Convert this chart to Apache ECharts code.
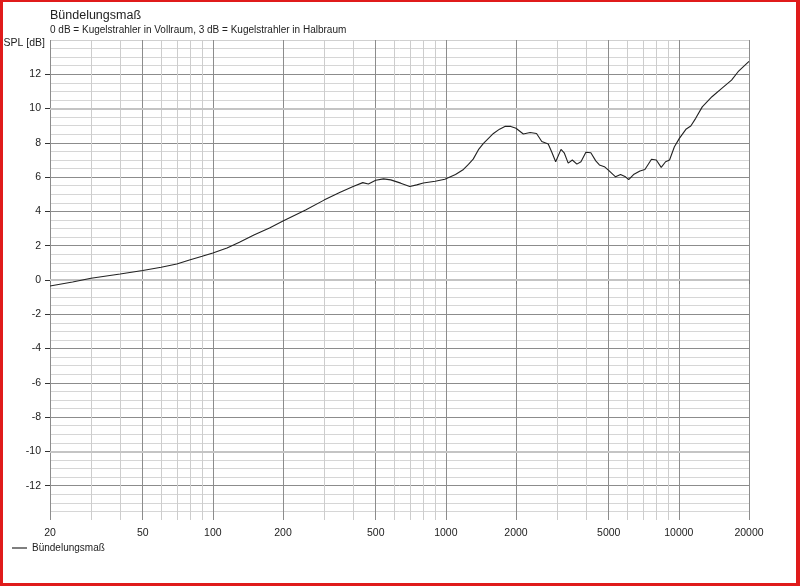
<!DOCTYPE html>
<html>
<head>
<meta charset="utf-8">
<script src="https://cdn.jsdelivr.net/npm/echarts@6/dist/echarts.min.js"></script>
<style>
html,body{margin:0;padding:0;background:#fff;}
#wrap{position:relative;width:800px;height:586px;}
#chart{position:absolute;left:0;top:0;width:800px;height:586px;}
#frame{position:absolute;left:0;top:0;right:0;bottom:0;border-style:solid;border-color:#e01b1b;border-width:2px 4px 3px 3px;pointer-events:none;}
</style>
</head>
<body>
<div id="wrap"><div id="chart"></div><div id="frame"></div></div>
<script>
// ---- data ----
const titleText = 'Bündelungsmaß';
const subtitleText = '0 dB = Kugelstrahler in Vollraum, 3 dB = Kugelstrahler in Halbraum';
const yAxisName = 'SPL [dB]';
const seriesName = 'Bündelungsmaß';
const xLabelTicks = [20, 50, 100, 200, 500, 1000, 2000, 5000, 10000, 20000];
const xMinorTicks = [30, 40, 60, 70, 80, 90, 300, 400, 600, 700, 800, 900, 3000, 4000, 6000, 7000, 8000, 9000];
const yLabelTicks = [-12, -10, -8, -6, -4, -2, 0, 2, 4, 6, 8, 10, 12];
const freq = [20, 25, 30, 40, 50, 60, 70, 80, 90, 100, 115, 130, 150, 175, 200, 250, 300, 350, 400, 440, 465, 500, 540, 580, 640, 700, 750, 800, 900, 990,
  1100, 1190, 1250, 1310, 1380, 1450, 1520, 1600, 1700, 1800, 1900, 2000, 2150, 2300, 2450, 2580, 2750, 2850, 2960, 3120, 3220, 3350, 3490, 3650, 3800, 3990,
  4190, 4400, 4560, 4790, 5010, 5350, 5620, 5900, 6090, 6390, 6810, 7150, 7630, 8000, 8400, 8770, 9120, 9570, 10050, 10720, 11250, 11810, 12600, 13870,
  15280, 16830, 17960, 20000];
const spl = [-0.35, -0.12, 0.1, 0.35, 0.55, 0.74, 0.93, 1.18, 1.38, 1.58, 1.87, 2.2, 2.62, 3.04, 3.44, 4.08, 4.66, 5.1, 5.45, 5.68, 5.6, 5.82, 5.9, 5.84, 5.65, 5.45, 5.55, 5.66, 5.76, 5.88,
  6.15, 6.45, 6.75, 7.05, 7.6, 7.97, 8.25, 8.55, 8.8, 8.97, 8.96, 8.85, 8.52, 8.6, 8.55, 8.08, 7.93, 7.45, 6.9, 7.62, 7.42, 6.82, 7.0, 6.76, 6.9, 7.45,
  7.42, 6.95, 6.71, 6.61, 6.38, 6.02, 6.16, 6.02, 5.86, 6.15, 6.36, 6.45, 7.04, 7.0, 6.57, 6.9, 7.0, 7.77, 8.26, 8.79, 8.98, 9.43, 10.1, 10.69,
  11.18, 11.66, 12.15, 12.75];
const yMin = -14, yMax = 14, yStep = 2;
const yHeavyLines = [-10, 0, 10];

// ---- chart ----
const FONT = '"Liberation Sans", Arial, sans-serif';
const chart = echarts.init(document.getElementById('chart'), null, {renderer: 'canvas'});
const yColors = [];
for (let v = yMin; v <= yMax; v += yStep) {
  if (v === yMin) yColors.push('rgba(0,0,0,0)');
  else if (v === yMax) yColors.push('#d0d0d0');
  else if (yHeavyLines.indexOf(v) >= 0) yColors.push('#c4c4c4');
  else yColors.push('#8c8c8c');
}
const option = {
  backgroundColor: '#fff',
  animation: false,
  textStyle: {fontFamily: FONT},
  title: {
    text: titleText, subtext: subtitleText,
    left: 50, top: 9, itemGap: 3, padding: 0,
    textStyle: {fontFamily: FONT, fontSize: 12.5, fontWeight: 'normal', color: '#222'},
    subtextStyle: {fontFamily: FONT, fontSize: 10, color: '#222'}
  },
  graphic: [{
    type: 'text', right: 755, top: 38,
    style: {text: yAxisName, font: '10.5px ' + FONT, fill: '#222', textAlign: 'right'}
  }],
  legend: {
    left: 12, top: 543, padding: 0, icon: 'rect', itemWidth: 15, itemHeight: 1.5,
    itemStyle: {color: '#555'},
    textStyle: {fontFamily: FONT, fontSize: 10, color: '#222'},
    data: [seriesName]
  },
  grid: {left: 50, right: 51, top: 40, bottom: 66, containLabel: false, outerBoundsMode: 'none'},
  xAxis: [{
    type: 'log', logBase: 10, min: 20, max: 20000, position: 'bottom',
    axisLine: {show: false},
    axisTick: {show: false, customValues: xMinorTicks},
    axisLabel: {show: false, customValues: xMinorTicks},
    splitLine: {show: true, lineStyle: {color: '#cdcdcd', width: 1}}
  }, {
    type: 'log', logBase: 10, min: 20, max: 20000, position: 'bottom',
    axisLine: {show: false},
    axisTick: {show: true, length: 4, customValues: xLabelTicks, lineStyle: {color: '#7a7a7a'}},
    axisLabel: {show: true, customValues: xLabelTicks, margin: 8, fontSize: 10.5, color: '#222', fontFamily: FONT,
      formatter: v => String(Math.round(v))},
    splitLine: {show: true, lineStyle: {color: '#8c8c8c', width: 1}}
  }],
  yAxis: [{
    type: 'value', min: yMin, max: yMax, interval: yStep, position: 'left',
    axisLine: {show: false},
    axisTick: {show: false},
    axisLabel: {show: false},
    splitLine: {show: true, lineStyle: {color: yColors, width: 1}},
    minorTick: {show: false, splitNumber: 4},
    minorSplitLine: {show: true, lineStyle: {color: '#d6d6d6', width: 1}}
  }, {
    type: 'value', min: yMin, max: yMax, position: 'left', offset: 0,
    axisLine: {show: false},
    axisTick: {show: true, length: 5, customValues: yLabelTicks, lineStyle: {color: '#333'}},
    axisLabel: {show: true, customValues: yLabelTicks, margin: 9, fontSize: 10.5, color: '#222', fontFamily: FONT,
      formatter: v => String(v)},
    splitLine: {show: false}
  }],
  series: [{
    name: seriesName, type: 'line', xAxisIndex: 1, yAxisIndex: 0,
    data: freq.map((f, i) => [f, spl[i]]),
    showSymbol: false, smooth: false,
    lineStyle: {color: '#222', width: 1.1},
    itemStyle: {color: '#222'},
    markLine: {
      silent: true, symbol: 'none', animation: false,
      label: {show: false},
      lineStyle: {color: '#c4c4c4', width: 2, type: 'solid'},
      data: yHeavyLines.map(v => ({yAxis: v}))
    },
    z: 5
  }]
};
chart.setOption(option);
</script>
</body>
</html>
